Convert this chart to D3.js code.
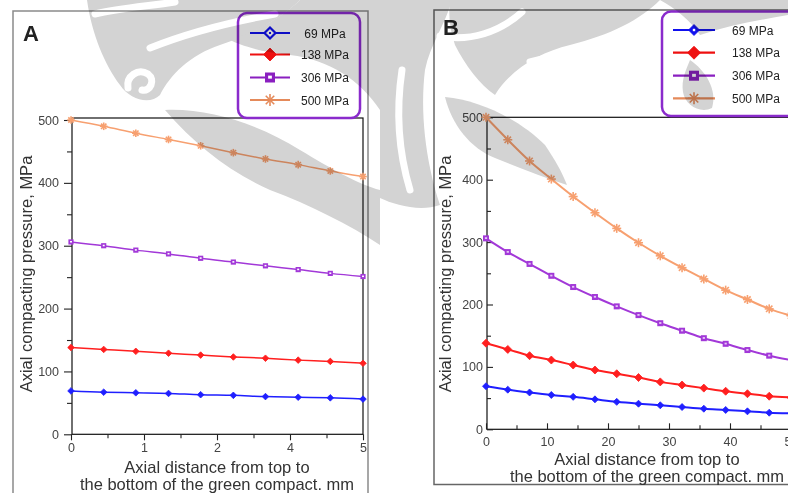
<!DOCTYPE html>
<html>
<head>
<meta charset="utf-8">
<script src="https://cdn.jsdelivr.net/npm/d3@7"></script>
<style>
html, body { margin: 0; padding: 0; background: #fff; }
svg { display: block; font-family: Arial, "Liberation Sans", sans-serif; }
</style>
</head>
<body>
<script>
// legend / series
var seriesNames = ["69 MPa", "138 MPa", "306 MPa", "500 MPa"];
var seriesColors = ["#1f1fff", "#ff1f1f", "#a238d8", "#f7a070"];
var legendColors = ["#1010ee", "#ee1010", "#8a1fc0", "#e58a5a"];
var seriesMarks = ["diamond", "diamond", "square", "star"];

// panel A, axial distance 0..5 mm
var distA = [0, 0.56, 1.11, 1.67, 2.22, 2.78, 3.33, 3.89, 4.44, 5];
var a69  = [69, 67, 66, 65, 63, 62, 60, 59, 58, 56];
var a138 = [138, 135, 132, 129, 126, 123, 121, 118, 116, 113];
var a306 = [306, 300, 293, 287, 280, 274, 268, 262, 256, 251];
var a500 = [500, 490, 479, 469, 459, 448, 438, 429, 419, 410];
var xTicksA = [0, 1.25, 2.5, 3.75, 5];
var xTickLabelsA = ["0", "1", "2", "4", "5"];
var xMinorA = [0.625, 1.875, 3.125, 4.375];

// panel B, axial distance 0..50 mm
var distB = [0, 3.57, 7.14, 10.71, 14.29, 17.86, 21.43, 25, 28.57, 32.14, 35.71, 39.29, 42.86, 46.43, 50];
var b69  = [69, 63.5, 59, 55, 52, 48, 44, 41, 38.5, 35.7, 33, 31, 28.8, 26.6, 25.5];
var b138 = [138, 128, 118, 111, 103, 95, 89, 83, 76, 71, 66, 61, 57, 53, 51];
var b306 = [306, 284, 265, 246, 228, 212, 197, 183, 170, 158, 146, 137, 127, 118, 111];
var b500 = [500, 464, 430, 401, 373, 347, 322, 299, 278, 259, 241, 223, 208, 193, 182];
var xTicksB = [0, 10, 20, 30, 40, 50];
var xMinorB = [5, 15, 25, 35, 45];

var yTicks = [0, 100, 200, 300, 400, 500];
var yMinor = [50, 150, 250, 350, 450];

var W = 788, H = 493;
var svg = d3.select("body").append("svg").attr("width", W).attr("height", H);

// marker: diamond / square / star, "open" gives the hollow look
function addMarker(g, type, cx, cy, s, color, open) {
  var m = g.append("g").attr("transform", "translate(" + cx + "," + cy + ")");
  if (type === "diamond") {
    m.append("path")
      .attr("d", "M0," + (-s) + "L" + s + ",0L0," + s + "L" + (-s) + ",0Z")
      .attr("fill", open === "hollow" ? "#fff" : color)
      .attr("stroke", color)
      .attr("stroke-width", open === "hollow" ? 2.2 : 0.8);
    if (open === "hollow") m.append("rect").attr("x", -1).attr("y", -1).attr("width", 2).attr("height", 2).attr("fill", color);
    if (open === "dot") m.append("rect").attr("x", -1.2).attr("y", -1.2).attr("width", 2.4).attr("height", 2.4).attr("fill", "#fff");
  } else if (type === "square") {
    m.append("rect").attr("x", -s).attr("y", -s).attr("width", 2 * s).attr("height", 2 * s)
      .attr("fill", color);
    var w = Math.max(1.2, s * 0.75);
    m.append("rect").attr("x", -w / 2).attr("y", -w / 2).attr("width", w).attr("height", w * 0.8)
      .attr("fill", open ? "#fff" : "#e6c6f6");
  } else {
    [0, 45, 90, 135].forEach(function(a) {
      var r = a * Math.PI / 180;
      m.append("line")
        .attr("x1", -s * Math.cos(r)).attr("y1", -s * Math.sin(r))
        .attr("x2", s * Math.cos(r)).attr("y2", s * Math.sin(r))
        .attr("stroke", color).attr("stroke-width", 1.6);
    });
  }
}

var panels = [
  { label: "A", labelX: 23, labelY: 41,
    dist: distA, series: [a69, a138, a306, a500],
    xDomain: [0, 5], xRange: [71, 363], yRange: [434.3, 120], boxTop: 118, boxRight: 363,
    xTicks: xTicksA, xLabels: xTickLabelsA, xMinor: xMinorA, out: true,
    frame: { x: 13, y: 11, w: 355, h: 520, c: "#8a8a8a" },
    yTitleX: 26, xTitleX: 217, xTitleY: 473,
    lineW: 1.5, mSize: [3.3, 3.3, 2.6, 3.8],
    legMarks: ["hollow", null, true, null],
    legend: { x: 238, y: 13, w: 122, h: 105, lx0: 250, lx1: 290, ys: [33, 54.5, 77.5, 100], tx: 325, anchor: "middle" } },
  { label: "B", labelX: 443, labelY: 35,
    dist: distB, series: [b69, b138, b306, b500],
    xDomain: [0, 50], xRange: [486, 791], yRange: [429.3, 117.3], boxTop: 117.3, boxRight: 791,
    xTicks: xTicksB, xLabels: null, xMinor: xMinorB, out: false,
    frame: { x: 434, y: 10, w: 400, h: 474.5, c: "#666" },
    yTitleX: 445, xTitleX: 647, xTitleY: 464.5,
    lineW: 2, mSize: [3.5, 4, 3, 4.5],
    legMarks: ["dot", null, true, null],
    legend: { x: 662, y: 11.5, w: 140, h: 104.5, lx0: 673, lx1: 715, ys: [30, 52.7, 75.7, 98.3], tx: 732, anchor: "start" } }
];

panels.forEach(function(p) {
  var g = svg.append("g");
  var x = d3.scaleLinear().domain(p.xDomain).range(p.xRange);
  var y = d3.scaleLinear().domain([0, 500]).range(p.yRange);

  // outer frame
  g.append("rect").attr("x", p.frame.x).attr("y", p.frame.y)
    .attr("width", p.frame.w).attr("height", p.frame.h)
    .attr("fill", "none").attr("stroke", p.frame.c).attr("stroke-width", 1.5);

  // plot box
  var bx = x(0) + 1;
  g.append("rect").attr("x", bx).attr("y", p.boxTop)
    .attr("width", p.boxRight - bx).attr("height", y(0) - p.boxTop)
    .attr("fill", "none").attr("stroke", "#111").attr("stroke-width", 1.2);

  var big = p.out ? 8 : -6, small = p.out ? 5 : -4;
  var bigX = p.out ? 6 : -6, smallX = p.out ? 4 : -4;

  var yAxis = g.append("g").attr("transform", "translate(" + bx + ",0)")
    .call(d3.axisLeft(y).tickValues(yTicks).tickSizeInner(big).tickSizeOuter(0).tickPadding(p.out ? 5 : 4));
  var yMin = g.append("g").attr("transform", "translate(" + bx + ",0)")
    .call(d3.axisLeft(y).tickValues(yMinor).tickSizeInner(small).tickSizeOuter(0).tickFormat(""));
  var xAxis = g.append("g").attr("transform", "translate(0," + y(0) + ")")
    .call(d3.axisBottom(x).tickValues(p.xTicks).tickSizeInner(bigX).tickSizeOuter(0)
      .tickPadding(p.out ? 3 : 8)
      .tickFormat(function(d, i) { return p.xLabels ? p.xLabels[i] : d; }));
  var xMin = g.append("g").attr("transform", "translate(0," + y(0) + ")")
    .call(d3.axisBottom(x).tickValues(p.xMinor).tickSizeInner(smallX).tickSizeOuter(0).tickFormat(""));

  [yAxis, yMin, xAxis, xMin].forEach(function(a) {
    a.select(".domain").remove();
    a.selectAll("line").attr("stroke", "#222").attr("stroke-width", 1.1);
    a.selectAll("text").attr("fill", "#444").attr("font-size", 12.5)
      .attr("font-family", "Arial, 'Liberation Sans', sans-serif");
  });

  // series
  var line = d3.line()
    .curve(d3.curveMonotoneX)
    .x(function(d, i) { return x(p.dist[i]); })
    .y(function(d) { return y(d); });

  p.series.forEach(function(s, k) {
    g.append("path").datum(s).attr("d", line)
      .attr("fill", "none").attr("stroke", seriesColors[k]).attr("stroke-width", p.lineW);
  });
  p.series.forEach(function(s, k) {
    s.forEach(function(v, i) {
      addMarker(g, seriesMarks[k], x(p.dist[i]), y(v), p.mSize[k], seriesColors[k], p.out && k === 2);
    });
  });

  // legend
  var L = p.legend;
  var lg = g.append("g");
  lg.append("rect").attr("x", L.x).attr("y", L.y).attr("width", L.w).attr("height", L.h)
    .attr("rx", 9).attr("fill", "#fff").attr("stroke", "#8a2bcc").attr("stroke-width", 2.5);
  seriesNames.forEach(function(n, k) {
    var ly = L.ys[k];
    lg.append("line").attr("x1", L.lx0).attr("x2", L.lx1).attr("y1", ly).attr("y2", ly)
      .attr("stroke", legendColors[k]).attr("stroke-width", 2.2);
    var sz = [5.5, 6.5, 5, 6][k];
    addMarker(lg, seriesMarks[k], (L.lx0 + L.lx1) / 2, ly, sz, legendColors[k], p.legMarks[k]);
    lg.append("text").attr("x", L.tx).attr("y", ly + 4.5).attr("text-anchor", L.anchor)
      .attr("font-size", 12).attr("fill", "#222").text(n);
  });

  // titles
  g.append("text").attr("x", p.labelX).attr("y", p.labelY)
    .attr("font-size", 22).attr("font-weight", "bold").attr("fill", "#222").text(p.label);
  g.append("text")
    .attr("transform", "translate(" + p.yTitleX + "," + 274 + ") rotate(-90)")
    .attr("text-anchor", "middle").attr("dy", "0.35em")
    .attr("font-size", 16.5).attr("fill", "#333").text("Axial compacting pressure, MPa");
  var xt = g.append("text").attr("text-anchor", "middle").attr("font-size", 16.5).attr("fill", "#333");
  xt.append("tspan").attr("x", p.xTitleX).attr("y", p.xTitleY).text("Axial distance from top to");
  xt.append("tspan").attr("x", p.xTitleX).attr("y", p.xTitleY + 17).text("the bottom of the green compact. mm");
});

// background watermark: gray blobs cut by white swirls, multiplied over the chart
var wmGray = [
  "M87,0 L300,0 C280,20 250,35 220,45 C190,55 170,75 160,95 C150,105 130,100 120,85 C105,65 92,35 87,0 Z",
  "M300,0 L380,0 L380,110 C360,80 330,60 290,55 C260,52 240,45 230,40 C260,30 285,15 300,0 Z",
  "M165,110 C210,108 260,125 300,150 C330,168 360,185 380,190 L380,245 C350,225 310,205 270,190 C230,172 195,145 165,110 Z",
  "M380,0 L452,0 C445,25 430,45 425,70 C420,110 425,160 440,205 C420,212 395,205 380,198 Z",
  "M450,0 L660,0 C640,20 610,35 570,45 C540,52 510,70 495,95 C480,85 465,65 455,45 C450,30 448,15 450,0 Z",
  "M445,97 C480,100 520,120 545,145 C555,160 562,172 567,185 C545,178 520,168 495,158 C470,148 452,125 445,97 Z",
  "M660,0 L788,0 L788,15 C760,20 730,25 700,35 C690,20 675,8 660,0 Z",
  "M690,60 C705,70 718,90 712,108 C700,114 685,105 683,92 C681,80 686,70 690,60 Z"
];
var wmWhite = [
  "M95,14 C120,8 150,6 175,2",
  "M150,48 C190,32 230,22 275,14",
  "M128,88 C126,76 138,68 148,74 C156,80 150,92 142,90",
  "M200,100 C240,98 280,110 320,128",
  "M440,36 C470,42 500,32 522,12",
  "M530,62 C570,52 610,46 650,38",
  "M402,70 C396,110 398,150 410,190"
];
var wm = svg.append("g").style("mix-blend-mode", "multiply");
wm.selectAll("path.g").data(wmGray).enter().append("path")
  .attr("class", "g").attr("d", function(d) { return d; }).attr("fill", "#d3d3d3");
wm.selectAll("path.w").data(wmWhite).enter().append("path")
  .attr("class", "w").attr("d", function(d) { return d; })
  .attr("fill", "none").attr("stroke", "#fff").attr("stroke-width", 7).attr("stroke-linecap", "round");
</script>
</body>
</html>
